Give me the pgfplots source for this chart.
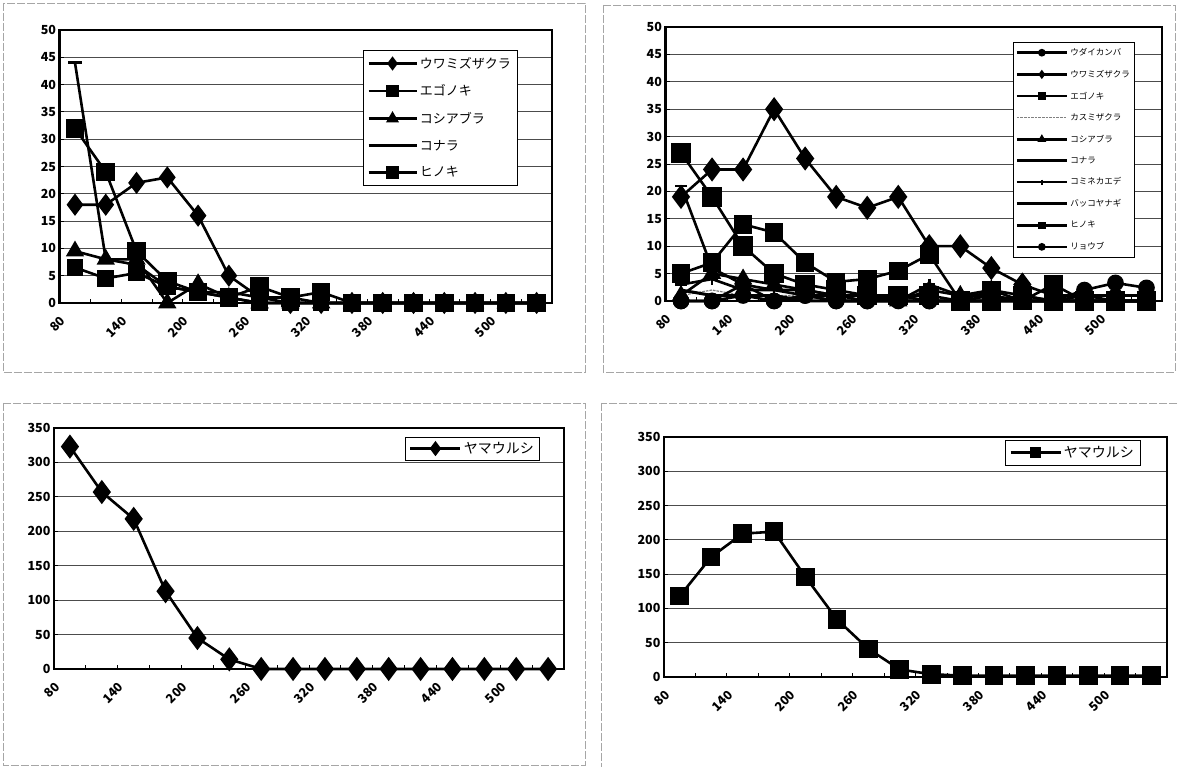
\documentclass[border=0pt]{standalone}
\usepackage{fontspec}
\setmainfont{Noto Sans CJK JP}
\usepackage{pgfplots}
\usepackage{pgfplotstable}
\pgfplotsset{compat=1.18}

% top-left data
\pgfplotstableread{
i  uwa  ego  kos  kon  hin
0  18   6.5  9.5  44   32
1  18   4.5  8    8    24
2  22   5.5  8    7    9.5
3  23   3    0    3    4
4  16   2    3.5  2    2
5  5    1    1    2    1
6  1    0    0    1    3
7  0    0    0    1    1
8  0    0    0    0    2
9  0    0    0    0    0
10 0    0    0    0    0
11 0    0    0    0    0
12 0    0    0    0    0
13 0    0    0    0    0
14 0    0    0    0    0
15 0    0    0    0    0
}\tl

% top-right data
\pgfplotstableread{
i  uda  uwa  ego  kas  kos  kon  kom  bak  hin  ryo
0  0    19   5    1    1    21   3    2    27   0
1  0    24   7    2    5    6    4    1    19   0
2  1    24   14   1    4    3    2    1    10   3
3  0    35   12.5 1    3    2    2    1    5    0
4  1    26   7    1    2    1    2    0    3    1
5  0    19   3.5  0    1    1    1    0    2    0
6  0    17   4    0    1    1    0    0    1    0
7  0    19   5.5  0    0    0    0    0    1    1
8  0    10   8.5  0    2    0    3    0    1    0
9  0    10   0    0    1    0    1    0    0    0
10 0    6    2    0    2    0    1    0    0    1
11 0    3    0    0    1    0    0    0    1    0
12 0    1    3    0    0    0    0    0    0    0
13 0    1    0    0    1    0    0    0    0    2
14 0    1    0    0    0    0    0    0    0    3.3
15 0    1    0    0    0    0    0    0    0    2.4
}\tr

% bottom data
\pgfplotstableread{
i  bl   br
0  323  118
1  257  175
2  218  209
3  113  212
4  45   146
5  14   84
6  0    41
7  0    11
8  0    4
9  0    2
10 0    2
11 0    2
12 0    2
13 0    2
14 0    2
15 0    2
}\bt

\pgfplotsset{
  excel/.style={
    scale only axis, anchor=south west, clip=false,
    xmin=-0.5, xmax=15.5,
    xtick={-0.5,1.5,...,13.5},
    xticklabels={80,140,200,260,320,380,440,500},
    minor xtick={0.5,2.5,...,14.5},
    xticklabel shift=11pt,
    x tick label style={rotate=45, anchor=north east, font=\bfseries\fontsize{12.5}{12.5}\selectfont, inner sep=1pt},
    y tick label style={font=\bfseries\fontsize{12.5}{12.5}\selectfont},
    /pgf/number format/assume math mode=true,
    ymajorgrids, grid style={black!70, line width=0.8pt},
    axis line style={line width=2.8pt},
    tick style={black, line width=0.8pt},
    major tick length=4pt, minor tick length=4pt,
    tick align=inside,
    xtick pos=bottom, ytick pos=left,
    every axis plot/.append style={black, line width=2.6pt},
    legend cell align=left,
  },
}

\begin{document}
\begin{tikzpicture}
\useasboundingbox (0pt,0pt) rectangle (1178pt,767pt);
\fill[white] (0pt,0pt) rectangle (1178pt,767pt);
\begin{scope}[gray!70, line width=0.7pt, dash pattern=on 8pt off 2pt]
\draw (3pt,764pt) rectangle (585pt,395pt);
\draw (603pt,762pt) rectangle (1175pt,395pt);
\draw (3pt,364pt) rectangle (585pt,2pt);
\draw (601pt,364pt) rectangle (1180pt,-5pt);
\end{scope}

% ---------- top-left
\begin{axis}[excel, at={(59.6pt,464pt)}, width=492.4pt, height=273pt,
  ymin=0, ymax=50, ytick={0,5,...,50},
  legend style={at={(0.616,0.927)}, anchor=north west, draw=black, line width=0.6pt,
    font=\fontsize{13}{13}\selectfont, row sep=11pt, inner ysep=5pt, inner xsep=4pt},
  legend image code/.code={\draw[mark repeat=2,mark phase=2,mark size=5pt] plot coordinates {(0pt,0pt) (24pt,0pt) (48pt,0pt)};},
]
\addplot[mark=diamond*, mark size=9pt] table[x=i,y=uwa]{\tl};
\addlegendentry{ウワミズザクラ}
\addplot[mark=square*, mark size=7pt] table[x=i,y=ego]{\tl};
\addlegendentry{エゴノキ}
\addplot[mark=triangle*, mark size=8pt] table[x=i,y=kos]{\tl};
\addlegendentry{コシアブラ}
\addplot[mark=-, mark size=7pt] table[x=i,y=kon]{\tl};
\addlegendentry{コナラ}
\addplot[mark=square*, mark size=8pt] table[x=i,y=hin]{\tl};
\addlegendentry{ヒノキ}
\end{axis}

% ---------- top-right
\begin{axis}[excel, at={(665.5pt,466pt)}, width=496.5pt, height=274pt,
  ymin=0, ymax=50, ytick={0,5,...,50},
  legend style={at={(0.700,0.945)}, anchor=north west, draw=black, line width=0.6pt,
    font=\fontsize{8.5}{8.5}\selectfont, row sep=9pt, inner ysep=4pt, inner xsep=2pt},
  legend image code/.code={\draw[mark repeat=2,mark phase=2,mark size=2.5pt] plot coordinates {(0pt,0pt) (25pt,0pt) (50pt,0pt)};},
]
\addplot[mark=*, mark size=7pt] table[x=i,y=uda]{\tr};
\addlegendentry{ウダイカンバ}
\addplot[mark=diamond*, mark size=10pt] table[x=i,y=uwa]{\tr};
\addlegendentry{ウワミズザクラ}
\addplot[mark=square*, mark size=8pt] table[x=i,y=ego]{\tr};
\addlegendentry{エゴノキ}
\addplot[densely dotted, gray, line width=1.2pt] table[x=i,y=kas]{\tr};
\addlegendentry{カスミザクラ}
\addplot[mark=triangle*, mark size=8pt] table[x=i,y=kos]{\tr};
\addlegendentry{コシアブラ}
\addplot[mark=-, mark size=6pt] table[x=i,y=kon]{\tr};
\addlegendentry{コナラ}
\addplot[mark=+, mark size=6pt] table[x=i,y=kom]{\tr};
\addlegendentry{コミネカエデ}
\addplot[line width=3pt] table[x=i,y=bak]{\tr};
\addlegendentry{バッコヤナギ}
\addplot[mark=square*, mark size=8.5pt] table[x=i,y=hin]{\tr};
\addlegendentry{ヒノキ}
\addplot[mark=*, mark size=7pt] table[x=i,y=ryo]{\tr};
\addlegendentry{リョウブ}
\end{axis}

% ---------- bottom-left
\begin{axis}[excel, at={(54pt,98pt)}, width=510pt, height=241pt,
  ymin=0, ymax=350, ytick={0,50,...,350},
  legend style={at={(0.688,0.963)}, anchor=north west, draw=black, line width=0.6pt,
    font=\fontsize{14}{14}\selectfont, inner ysep=3pt, inner xsep=4pt},
  legend image code/.code={\draw[mark repeat=2,mark phase=2,mark size=5.5pt] plot coordinates {(0pt,0pt) (25pt,0pt) (50pt,0pt)};},
]
\addplot[mark=diamond*, mark size=10pt] table[x=i,y=bl]{\bt};
\addlegendentry{ヤマウルシ}
\end{axis}

% ---------- bottom-right
\begin{axis}[excel, at={(664pt,90pt)}, width=503pt, height=240pt,
  ymin=0, ymax=350, ytick={0,50,...,350},
  legend style={at={(0.678,0.9875)}, anchor=north west, draw=black, line width=0.6pt,
    font=\fontsize{14}{14}\selectfont, inner ysep=4pt, inner xsep=4pt},
  legend image code/.code={\draw[mark repeat=2,mark phase=2,mark size=4.5pt] plot coordinates {(0pt,0pt) (25pt,0pt) (50pt,0pt)};},
]
\addplot[mark=square*, mark size=8pt] table[x=i,y=br]{\bt};
\addlegendentry{ヤマウルシ}
\end{axis}
\end{tikzpicture}
\end{document}
